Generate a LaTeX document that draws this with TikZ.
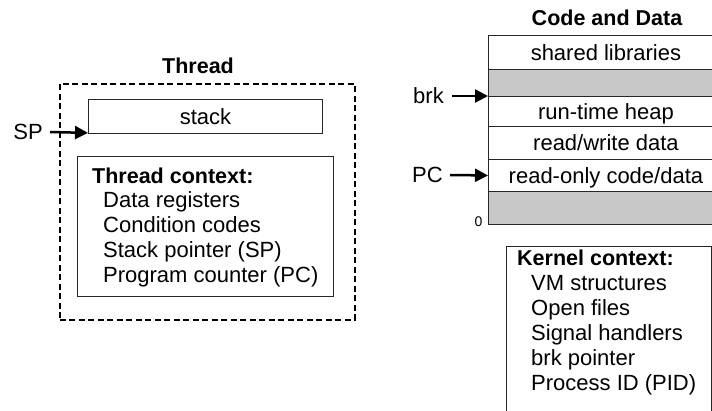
\documentclass[tikz,border=0pt]{standalone}
\usepackage{fontspec}
\setmainfont{Liberation Sans}
\usetikzlibrary{arrows.meta}
\definecolor{shade}{RGB}{200,200,200}
\tikzset{
  box/.style={draw=black!85, line width=0.9pt, anchor=north west, inner sep=0pt},
  lbl/.style={font=\fontsize{22}{25}\selectfont, inner sep=0pt, text height=15.8pt, text depth=0pt},
  ttl/.style={font=\bfseries\fontsize{21.5}{25}\selectfont, inner sep=0pt, anchor=base},
  ln/.style={font=\fontsize{22}{25}\selectfont, inner sep=0pt, anchor=base west},
  hd/.style={font=\bfseries\fontsize{21.5}{25}\selectfont, inner sep=0pt, anchor=base west},
  ptr/.style={line width=2.5pt, -{Triangle[length=13pt,width=13pt]}},
  segrow/.style={box, minimum width=235pt, lbl},
  dashbox/.style={draw, line width=1.6pt, dash pattern=on 6pt off 3.5pt, anchor=north west, inner sep=0pt},
}
\begin{document}
\begin{tikzpicture}[x=1pt,y=-1pt]
\useasboundingbox (0,0) rectangle (712,410);

% ---------- Thread ----------
\node[ttl] (threadttl) at (198,73) {Thread};
\node[dashbox, minimum width=295pt, minimum height=236pt] (thread) at (59,83) {};
\node[box, lbl, minimum width=234pt, minimum height=34pt] (stack) at (88,99) {stack};
\node[box, minimum width=256pt, minimum height=140pt] (tctx) at (77,156) {};
\node[hd] (t0) at (92,183) {Thread context:};
\node[ln] (t1) at (103,207.8) {Data registers};
\node[ln] (t2) at (103,232.6) {Condition codes};
\node[ln] (t3) at (103,257.4) {Stack pointer (SP)};
\node[ln] (t4) at (103,282.2) {Program counter (PC)};

\node[lbl, anchor=east] (splbl) at (43,132) {SP};
\draw[ptr] ([xshift=7pt]splbl.east) -- ([yshift=1pt]stack.south west);

% ---------- Code and Data ----------
\node[ttl] (cdttl) at (607,25) {Code and Data};
\node[segrow, minimum height=34pt] (shlib) at (488,35) {shared libraries};
\node[segrow, minimum height=27pt, fill=shade] (gap1) at (488,69) {};
\node[segrow, minimum height=30pt] (heap) at (488,96) {run-time heap};
\node[segrow, minimum height=33pt] (rwdata) at (488,126) {read/write data};
\node[segrow, minimum height=32pt] (rodata) at (488,159) {read-only code/data};
\node[segrow, minimum height=33pt, fill=shade] (gap2) at (488,191) {};

\node[lbl, anchor=east] (brklbl) at (444,96) {brk};
\draw[ptr] ([xshift=8pt]brklbl.east) -- (heap.north west);
\node[lbl, anchor=east] (pclbl) at (443,175) {PC};
\draw[ptr] ([xshift=7pt]pclbl.east) -- (rodata.west);
\node[font=\fontsize{14}{16}\selectfont, inner sep=0pt, anchor=base] (zero) at (478.5,226) {0};

% ---------- Kernel context ----------
\node[box, minimum width=205pt, minimum height=200pt] (kbox) at (506,246) {};
\node[hd] (k0) at (517,265) {Kernel context:};
\node[ln] (k1) at (531,290) {VM structures};
\node[ln] (k2) at (531,315) {Open files};
\node[ln] (k3) at (531,340) {Signal handlers};
\node[ln] (k4) at (531,365) {brk pointer};
\node[ln] (k5) at (531,390) {Process ID (PID)};
\end{tikzpicture}
\end{document}
